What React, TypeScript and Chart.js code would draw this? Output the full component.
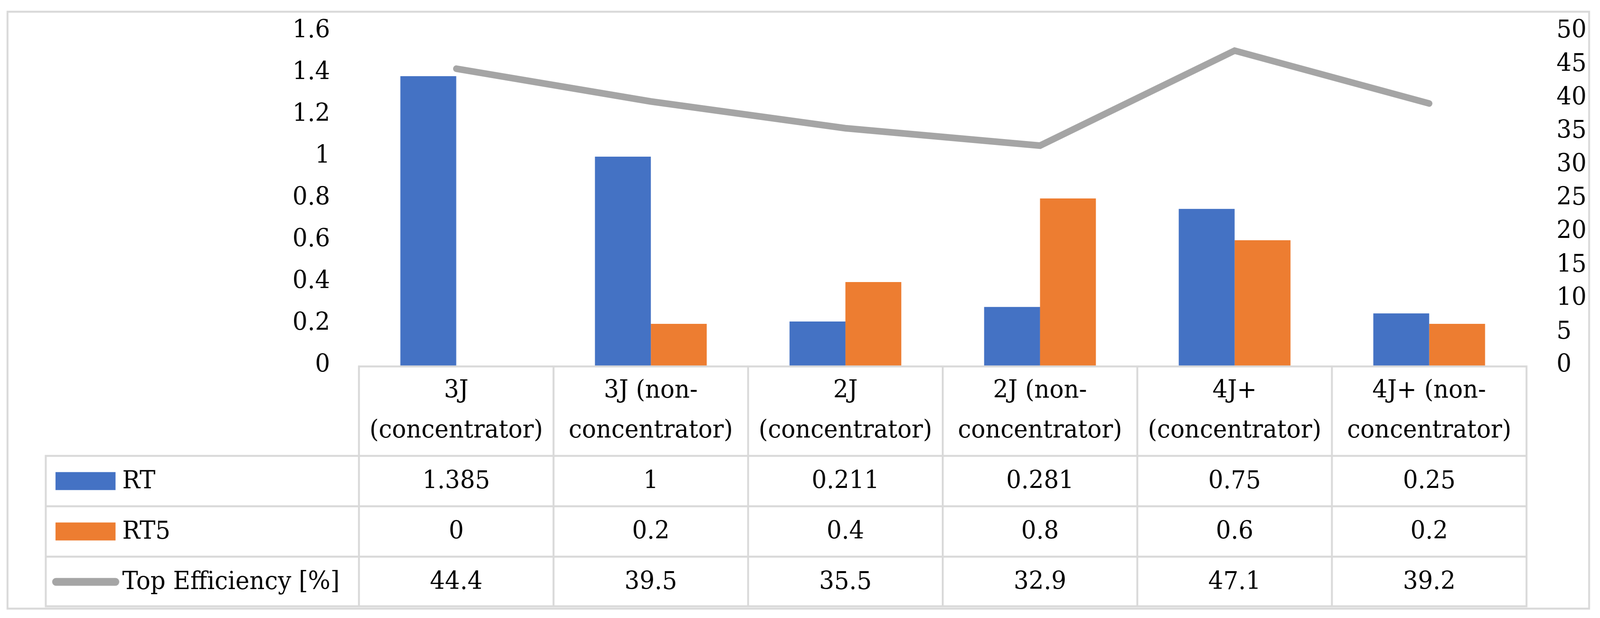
import { useEffect, useRef } from 'react';
import { Chart, registerables } from 'chart.js';

Chart.register(...registerables);

const categories: string[][] = [
  ['3J', '(concentrator)'],
  ['3J (non-', 'concentrator)'],
  ['2J', '(concentrator)'],
  ['2J (non-', 'concentrator)'],
  ['4J+', '(concentrator)'],
  ['4J+ (non-', 'concentrator)'],
];
const rtValues = [1.385, 1, 0.211, 0.281, 0.75, 0.25];
const rt5Values = [0, 0.2, 0.4, 0.8, 0.6, 0.2];
const effValues = [44.4, 39.5, 35.5, 32.9, 47.1, 39.2];
const seriesNames = ['RT', 'RT5', 'Top Efficiency [%]'];
const leftTickLabels = ['0', '0.2', '0.4', '0.6', '0.8', '1', '1.2', '1.4', '1.6'];
const rightTickLabels = ['0', '5', '10', '15', '20', '25', '30', '35', '40', '45', '50'];

const W = 4266;
const H = 1582;
const FONT = 'DejaVu Serif';
const FONT_SIZE = 63;
const BLUE = '#4472C4';
const ORANGE = '#ED7D31';
const GREY = '#A5A5A5';
const BORDER = '#D9D9D9';
const TEXT = '#000000';

const tablePlugin = {
  id: 'dataTable',
  afterDraw(chart: any) {
    const ctx = chart.ctx as CanvasRenderingContext2D;
    const xs = chart.scales.x;
    const area = chart.chartArea;
    const n = categories.length;
    const step = xs.getPixelForValue(1) - xs.getPixelForValue(0);
    const bounds: number[] = [];
    for (let i = 0; i < n; i++) bounds.push(xs.getPixelForValue(i) - step / 2);
    bounds.push(xs.getPixelForValue(n - 1) + step / 2);

    const headerTop = area.bottom + 2;
    const headerBottom = 1167;
    const rowH = 129;
    const tableBottom = headerBottom + rowH * 3 - 2;
    const legendLeft = 122;

    ctx.save();
    ctx.strokeStyle = BORDER;
    ctx.lineWidth = 5;
    ctx.lineCap = 'square';

    // outer chart frame
    ctx.strokeRect(20, 30, 4237 - 20, 1558 - 30);

    ctx.beginPath();
    ctx.moveTo(bounds[0], headerTop);
    ctx.lineTo(bounds[n], headerTop);
    for (let k = 0; k < 3; k++) {
      const y = headerBottom + k * rowH;
      ctx.moveTo(legendLeft, y);
      ctx.lineTo(bounds[n], y);
    }
    ctx.moveTo(legendLeft, tableBottom);
    ctx.lineTo(bounds[n], tableBottom);
    for (let i = 0; i <= n; i++) {
      ctx.moveTo(bounds[i], headerTop);
      ctx.lineTo(bounds[i], tableBottom);
    }
    ctx.moveTo(legendLeft, headerBottom);
    ctx.lineTo(legendLeft, tableBottom);
    ctx.stroke();

    const rows = [
      { name: seriesNames[0], values: rtValues, kind: 'bar', color: BLUE },
      { name: seriesNames[1], values: rt5Values, kind: 'bar', color: ORANGE },
      { name: seriesNames[2], values: effValues, kind: 'line', color: GREY },
    ];
    ctx.font = `${FONT_SIZE}px "${FONT}"`;
    ctx.textBaseline = 'middle';
    rows.forEach((row, r) => {
      const cy = headerBottom + r * rowH + rowH / 2;
      if (row.kind === 'bar') {
        ctx.fillStyle = row.color;
        ctx.fillRect(148, cy - 23, 160, 46);
      } else {
        ctx.strokeStyle = row.color;
        ctx.lineWidth = 20;
        ctx.lineCap = 'round';
        ctx.beginPath();
        ctx.moveTo(149, cy);
        ctx.lineTo(308, cy);
        ctx.stroke();
      }
      ctx.fillStyle = TEXT;
      ctx.textAlign = 'left';
      ctx.fillText(row.name, 326, cy + 2);
      ctx.textAlign = 'center';
      row.values.forEach((v, i) => {
        ctx.fillText(String(v), xs.getPixelForValue(i), cy + 2);
      });
    });
    ctx.restore();
  },
};

export default function App() {
  const ref = useRef<HTMLCanvasElement | null>(null);
  useEffect(() => {
    if (!ref.current) return;
    const font = { family: FONT, size: FONT_SIZE };
    const chart = new Chart(ref.current, {
      type: 'bar',
      data: {
        labels: categories as any,
        datasets: [
          {
            type: 'line',
            label: seriesNames[2],
            data: effValues,
            yAxisID: 'y1',
            borderColor: GREY,
            backgroundColor: GREY,
            borderWidth: 17,
            pointRadius: 0,
            tension: 0,
            borderCapStyle: 'round',
            borderJoinStyle: 'miter',
            order: 0,
          } as any,
          {
            type: 'bar',
            label: seriesNames[0],
            data: rtValues,
            yAxisID: 'y',
            backgroundColor: BLUE,
            barPercentage: 1,
            categoryPercentage: 0.5744,
            order: 1,
          },
          {
            type: 'bar',
            label: seriesNames[1],
            data: rt5Values,
            yAxisID: 'y',
            backgroundColor: ORANGE,
            barPercentage: 1,
            categoryPercentage: 0.5744,
            order: 1,
          },
        ],
      },
      options: {
        animation: false,
        responsive: false,
        devicePixelRatio: 1,
        layout: { padding: { top: 80, left: 0, right: 0, bottom: 0 } },
        plugins: {
          legend: { display: false },
          tooltip: { enabled: false },
        },
        scales: {
          x: {
            grid: { display: false, drawTicks: false },
            border: { display: false },
            ticks: {
              autoSkip: false,
              maxRotation: 0,
              minRotation: 0,
              padding: 15,
              color: TEXT,
              font: { ...font, lineHeight: 1.62 },
            },
            afterFit: (s: any) => {
              s.height = H - 936;
              s.paddingLeft = 0;
              s.paddingRight = 0;
            },
          },
          y: {
            position: 'left',
            min: 0,
            max: 1.6,
            grid: { display: false, drawTicks: false },
            border: { display: false },
            ticks: {
              stepSize: 0.2,
              padding: 77,
              color: TEXT,
              font,
              callback: (_v: any, i: number) => leftTickLabels[i],
            },
            afterFit: (s: any) => {
              s.width = 957;
              s.paddingTop = 0;
              s.paddingBottom = 0;
            },
          },
          y1: {
            position: 'right',
            min: 0,
            max: 50,
            grid: { display: false, drawTicks: false },
            border: { display: false },
            ticks: {
              stepSize: 5,
              padding: 80,
              color: TEXT,
              font,
              callback: (_v: any, i: number) => rightTickLabels[i],
            },
            afterFit: (s: any) => {
              s.width = W - 4070;
              s.paddingTop = 0;
              s.paddingBottom = 0;
            },
          },
        },
      },
      plugins: [tablePlugin],
    });
    return () => chart.destroy();
  }, []);

  return (
    <div
      style={{
        position: 'fixed',
        left: 0,
        top: 0,
        width: '100vw',
        height: '100vh',
        background: '#ffffff',
        overflow: 'hidden',
      }}
    >
      <canvas
        ref={ref}
        width={W}
        height={H}
        style={{ width: '100vw', height: '100vh', display: 'block' }}
      />
    </div>
  );
}
